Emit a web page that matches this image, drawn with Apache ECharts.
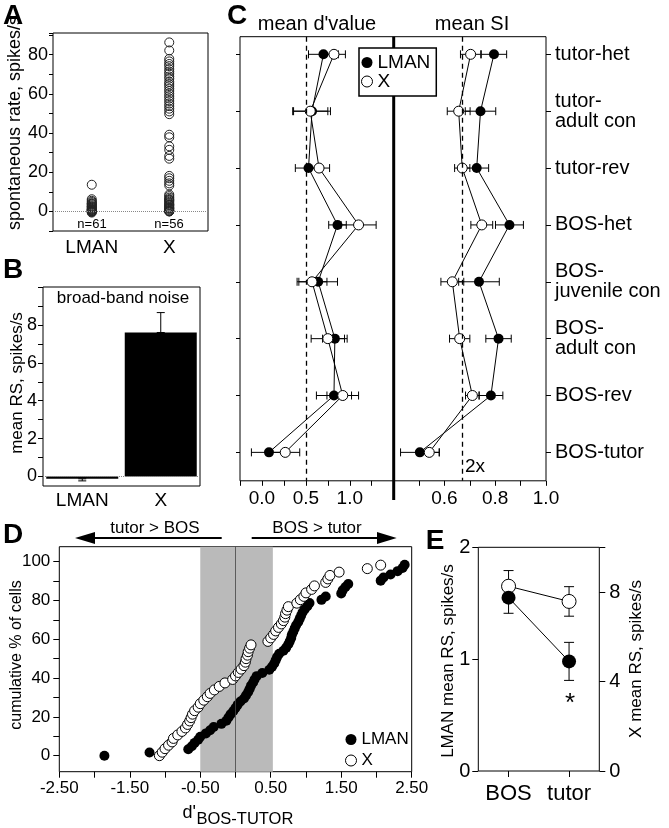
<!DOCTYPE html>
<html><head><meta charset="utf-8">
<script src="https://cdn.jsdelivr.net/npm/echarts@6/dist/echarts.min.js"></script>
<style>html,body{margin:0;padding:0;background:#fff}#c{width:669px;height:828px}</style>
</head><body><div id="c"></div>
<script>
// ---------- Panel A: spontaneous rate ----------
const aCategories = ['LMAN', 'X'];
const aLmanRates = [13.6, 6.2, 5.4, 4.8, 4.2, 3.6, 3.1, 2.6, 2.1, 1.7, 1.3, 1.0, 0.7, 0.4, 0.2, 0.0, 0.0, -0.3, -0.6, 0.9, 2.4, 3.9];
const aXRates = [86.2, 82.1, 77.8, 76.5, 75.2, 74.1, 72.6, 71.3, 70.2, 68.8, 67.7, 66.1, 65.0, 63.9, 62.6, 61.4, 60.1, 58.8, 57.6, 56.3,
  55.0, 53.7, 52.4, 51.0, 49.6, 39.1, 37.8, 33.2, 31.4, 28.3, 26.9, 18.1, 16.9, 15.6, 14.3, 13.2, 8.6, 7.8, 7.0, 6.3,
  5.5, 4.9, 4.2, 3.6, 3.0, 2.4, 1.9, 1.3, 0.8, 0.4, 0.1, 0.0, 5.9, 3.3, 1.6, 0.0];
const aCounts = ['n=61', 'n=56'];
const aYTickLabels = [0, 20, 40, 60, 80];

// ---------- Panel B: broad-band noise ----------
const bCategories = ['LMAN', 'X'];
const bMeans = [-0.12, 7.6];
const bErrors = [0.11, 1.05];
const bYTickLabels = [0, 2, 4, 6, 8];

// ---------- Panel C: mean d' and mean SI ----------
const cStimuli = ['tutor-het', 'tutor-\nadult con', 'tutor-rev', 'BOS-het', 'BOS-\njuvenile con', 'BOS-\nadult con', 'BOS-rev', 'BOS-tutor'];
const cDprimeLman = [0.70, 0.57, 0.53, 0.86, 0.64, 0.83, 0.82, 0.08];
const cDprimeLmanErr = [0.17, 0.21, 0.15, 0.10, 0.22, 0.14, 0.20, 0.20];
const cDprimeX = [0.82, 0.55, 0.65, 1.10, 0.57, 0.75, 0.92, 0.265];
const cDprimeXErr = [0.13, 0.20, 0.12, 0.20, 0.17, 0.19, 0.18, 0.165];
const cSiLman = [0.795, 0.742, 0.727, 0.856, 0.736, 0.813, 0.783, 0.503];
const cSiLmanErr = [0.05, 0.06, 0.047, 0.055, 0.08, 0.05, 0.047, 0.076];
const cSiX = [0.703, 0.656, 0.67, 0.747, 0.631, 0.66, 0.71, 0.54];
const cSiXErr = [0.04, 0.045, 0.03, 0.043, 0.045, 0.04, 0.027, 0.04];
const cDprimeTickLabels = [0, 0.5, 1.0];
const cSiTickLabels = [0.6, 0.8, 1.0];
const cDprimeCriterion = 0.5;
const cSiCriterion = 0.667;

// ---------- Panel D: cumulative distributions of d'BOS-TUTOR ----------
const dLman = [[-1.86,0.0],[-1.22,1.6],[-0.67,3.3],[-0.62,4.9],[-0.58,6.6],[-0.53,8.2],[-0.5,9.8],[-0.42,11.5],[-0.36,13.1],[-0.31,14.8],
  [-0.2,16.4],[-0.13,18.0],[-0.1,19.7],[-0.07,21.3],[-0.03,23.0],[0.0,24.6],[0.03,26.2],[0.07,27.9],[0.12,29.5],[0.15,31.1],
  [0.18,32.8],[0.2,34.4],[0.22,36.1],[0.25,37.7],[0.27,39.3],[0.3,41.0],[0.38,42.6],[0.48,44.3],[0.52,45.9],[0.55,47.5],
  [0.57,49.2],[0.59,50.8],[0.62,52.5],[0.68,54.1],[0.72,55.7],[0.75,57.4],[0.77,59.0],[0.79,60.7],[0.8,62.3],[0.82,63.9],
  [0.84,65.6],[0.86,67.2],[0.89,68.9],[0.91,70.5],[0.93,72.1],[0.95,73.8],[0.98,75.4],[1.02,77.0],[1.05,78.7],[1.22,80.3],
  [1.28,82.0],[1.5,83.6],[1.52,85.2],[1.56,86.9],[1.6,88.5],[2.06,90.2],[2.1,91.8],[2.2,93.4],[2.3,95.1],[2.37,96.7],[2.4,98.4]];
const dX = [[-1.08,0.0],[-1.04,1.8],[-1.0,3.6],[-0.95,5.4],[-0.9,7.1],[-0.88,8.9],[-0.82,10.7],[-0.76,12.5],[-0.71,14.3],[-0.68,16.1],
  [-0.65,17.9],[-0.63,19.6],[-0.61,21.4],[-0.58,23.2],[-0.53,25.0],[-0.5,26.8],[-0.45,28.6],[-0.4,30.4],[-0.36,32.1],[-0.3,33.9],
  [-0.23,35.7],[-0.15,37.5],[-0.04,39.3],[0.0,41.1],[0.04,42.9],[0.08,44.6],[0.12,46.4],[0.14,48.2],[0.15,50.0],[0.17,51.8],
  [0.18,53.6],[0.2,55.4],[0.22,57.1],[0.46,58.9],[0.5,60.7],[0.54,62.5],[0.57,64.3],[0.61,66.1],[0.65,67.9],[0.68,69.6],
  [0.7,71.4],[0.71,73.2],[0.73,75.0],[0.75,76.8],[0.87,78.6],[0.92,80.4],[0.97,82.1],[1.0,83.9],[1.08,85.7],[1.12,87.5],
  [1.28,89.3],[1.31,91.1],[1.34,92.9],[1.47,94.6],[1.87,96.4],[2.06,98.2]];
const dShadeRange = [-0.5, 0.53];
const dXTickLabels = [-2.5, -1.5, -0.5, 0.5, 1.5, 2.5];

// ---------- Panel E: response strength to BOS and tutor ----------
const eCategories = ['BOS', 'tutor'];
const eLmanMeans = [1.55, 0.98];
const eLmanErr = [0.14, 0.17];
const eXMeans = [8.26, 7.58];
const eXErr = [0.7, 0.66];

// ---------- helpers ----------
const FONT = '"Liberation Sans", Arial, Helvetica, sans-serif';
const BLACK = '#000';
function near(v, list) { return list.some(t => Math.abs(v - t) < 1e-6); }
const noAxis = {axisLine: {show: false, onZero: false}, splitLine: {show: false}, axisTick: {show: false}, axisLabel: {show: false}};
function tick(len) { return {show: true, length: len, lineStyle: {color: BLACK, width: 1}}; }
function lab(size, margin, formatter, extra) {
  return Object.assign({show: true, fontSize: size, color: BLACK, margin: margin, fontFamily: FONT, formatter: formatter}, extra || {});
}
const frame = {show: true, borderColor: BLACK, borderWidth: 1, backgroundColor: 'transparent'};

function hErr(params, api) {
  const y = api.value(2);
  const lo = api.coord([api.value(0), y]);
  const hi = api.coord([api.value(1), y]);
  const h = 4, st = {stroke: BLACK, lineWidth: 1};
  return {type: 'group', children: [
    {type: 'line', shape: {x1: lo[0], y1: lo[1], x2: hi[0], y2: hi[1]}, style: st},
    {type: 'line', shape: {x1: lo[0], y1: lo[1] - h, x2: lo[0], y2: lo[1] + h}, style: st},
    {type: 'line', shape: {x1: hi[0], y1: hi[1] - h, x2: hi[0], y2: hi[1] + h}, style: st}]};
}
function vErrFactory(half) {
  return function (params, api) {
    const x = api.value(0);
    const lo = api.coord([x, api.value(1)]);
    const hi = api.coord([x, api.value(2)]);
    const st = {stroke: BLACK, lineWidth: 1};
    return {type: 'group', children: [
      {type: 'line', shape: {x1: lo[0], y1: lo[1], x2: hi[0], y2: hi[1]}, style: st},
      {type: 'line', shape: {x1: lo[0] - half, y1: lo[1], x2: lo[0] + half, y2: lo[1]}, style: st},
      {type: 'line', shape: {x1: hi[0] - half, y1: hi[1], x2: hi[0] + half, y2: hi[1]}, style: st}]};
  };
}
function txt(x, y, text, size, opt) {
  opt = opt || {};
  return {type: 'text', x: x, y: y, rotation: opt.rot || 0, z: 30, silent: true,
    style: {text: text, fill: BLACK, font: (opt.bold ? 'bold ' : '') + size + 'px ' + FONT,
      textAlign: opt.align || 'center', textVerticalAlign: opt.valign || 'middle'}};
}
const ROT = Math.PI / 2;

const dotted0 = {silent: true, symbol: ['none', 'none'], label: {show: false},
  lineStyle: {color: '#888', type: 'dotted', width: 1}, data: [{yAxis: 0}]};

const option = {
  animation: false,
  textStyle: {fontFamily: FONT, color: BLACK},
  grid: [
    Object.assign({left: 53, top: 33, width: 155, height: 198}, frame),          // 0 A
    Object.assign({left: 43, top: 287, width: 157, height: 199}, frame),         // 1 B data
    {left: 43, top: 287, width: 157, height: 189.5, show: false},                 // 2 B ticks
    Object.assign({left: 240, top: 36.7, width: 153.7, height: 444.1}, frame),    // 3 C left
    Object.assign({left: 393.7, top: 36.7, width: 152.3, height: 444.1}, frame),  // 4 C right
    {left: 240, top: 25.9, width: 153.7, height: 454.9, show: false},             // 5 C left cat ticks
    {left: 393.7, top: 25.9, width: 152.3, height: 454.9, show: false},           // 6 C right cat labels
    Object.assign({left: 59.3, top: 546.7, width: 352.4, height: 225}, frame),    // 7 D data
    {left: 59.3, top: 561.6, width: 352.4, height: 194.1, show: false},           // 8 D ticks
    Object.assign({left: 478.3, top: 547.3, width: 121, height: 223.7}, frame)    // 9 E
  ],
  xAxis: [
    Object.assign({}, noAxis, {type: 'category', gridIndex: 0, data: aCategories, axisLabel: lab(19, 7, null, {interval: 0})}),
    Object.assign({}, noAxis, {type: 'category', gridIndex: 1, data: bCategories, axisLabel: lab(19, 5, null, {interval: 0})}),
    {type: 'value', gridIndex: 2, min: 0, max: 1, show: false},
    Object.assign({}, noAxis, {type: 'value', gridIndex: 3, min: -0.25, max: 1.5, interval: 0.25, axisTick: tick(5),
      axisLabel: lab(19, 8, v => near(v, cDprimeTickLabels) ? v.toFixed(1) : '')}),
    Object.assign({}, noAxis, {type: 'value', gridIndex: 4, min: 0.4, max: 1.0, interval: 0.1, axisTick: tick(5),
      axisLabel: lab(19, 8, v => near(v, cSiTickLabels) ? v.toFixed(1) : '')}),
    {type: 'value', gridIndex: 5, min: 0, max: 1, show: false},
    {type: 'value', gridIndex: 6, min: 0, max: 1, show: false},
    Object.assign({}, noAxis, {type: 'value', gridIndex: 7, min: -2.5, max: 2.5, interval: 0.5, axisTick: tick(6),
      axisLabel: lab(17, 8, v => near(v, dXTickLabels) ? v.toFixed(2) : '')}),
    {type: 'value', gridIndex: 8, min: 0, max: 1, show: false},
    Object.assign({}, noAxis, {type: 'category', gridIndex: 9, data: eCategories,
      axisTick: {show: true, alignWithLabel: true, length: 6, lineStyle: {color: BLACK}},
      axisLabel: lab(22, 12, null, {interval: 0})})
  ],
  yAxis: [
    Object.assign({}, noAxis, {type: 'value', gridIndex: 0, min: -10, max: 91, interval: 10, axisTick: tick(4),
      axisLabel: lab(18, 5, v => near(v, aYTickLabels) ? String(v) : '')}),
    {type: 'value', gridIndex: 1, min: -0.5, max: 10, show: false},
    Object.assign({}, noAxis, {type: 'value', gridIndex: 2, min: 0, max: 10, interval: 1, axisTick: tick(5),
      axisLabel: lab(18, 6, v => near(v, bYTickLabels) ? String(v) : '')}),
    {type: 'value', gridIndex: 3, min: -0.31, max: 7.5, inverse: true, show: false},
    {type: 'value', gridIndex: 4, min: -0.31, max: 7.5, inverse: true, show: false},
    Object.assign({}, noAxis, {type: 'category', gridIndex: 5, data: cStimuli, inverse: true, position: 'left',
      axisTick: {show: true, alignWithLabel: true, length: 4, lineStyle: {color: BLACK}}}),
    Object.assign({}, noAxis, {type: 'category', gridIndex: 6, data: cStimuli, inverse: true, position: 'right',
      axisTick: {show: true, alignWithLabel: true, length: 5, lineStyle: {color: BLACK}},
      axisLabel: lab(20, 9, null, {interval: 0, align: 'left', lineHeight: 20})}),
    {type: 'value', gridIndex: 7, min: -8.25, max: 107.7, show: false},
    Object.assign({}, noAxis, {type: 'value', gridIndex: 8, min: 0, max: 100, interval: 10, axisTick: tick(6),
      axisLabel: lab(17, 9, v => (Math.abs(v % 20) < 1e-6 ? String(v) : ''))}),
    Object.assign({}, noAxis, {type: 'value', gridIndex: 9, min: 0, max: 2, interval: 1, axisTick: tick(6),
      axisLabel: lab(20, 8, v => String(v))}),
    Object.assign({}, noAxis, {type: 'value', gridIndex: 9, min: 0, max: 10, interval: 4, position: 'right', axisTick: tick(6),
      axisLabel: lab(20, 10, v => (v <= 8 ? String(v) : ''))})
  ],
  legend: [
    {orient: 'vertical', left: 359, top: 48, padding: [5, 6, 5, 2], itemGap: 0, itemWidth: 11, itemHeight: 11,
      backgroundColor: '#fff', borderColor: BLACK, borderWidth: 1.5, selectedMode: false, z: 20,
      textStyle: {fontSize: 19, color: BLACK, fontFamily: FONT, lineHeight: 19},
      data: [{name: 'LMAN', icon: 'circle', itemStyle: {color: BLACK, borderWidth: 0, opacity: 1}},
             {name: 'X', icon: 'circle', itemStyle: {color: '#fff', borderColor: BLACK, borderWidth: 1, opacity: 1}}]},
    {orient: 'vertical', left: 345, top: 731, padding: 0, itemGap: 4, itemWidth: 11, itemHeight: 11, selectedMode: false, z: 20,
      textStyle: {fontSize: 17, color: BLACK, fontFamily: FONT, lineHeight: 16},
      data: [{name: 'LMAN', icon: 'circle', itemStyle: {color: BLACK, borderWidth: 0, opacity: 1}},
             {name: 'X', icon: 'circle', itemStyle: {color: '#fff', borderColor: BLACK, borderWidth: 1, opacity: 1}}]}
  ],
  series: [
    // A
    {name: 'A-LMAN', type: 'scatter', xAxisIndex: 0, yAxisIndex: 0, symbolSize: 9, z: 3,
      itemStyle: {color: 'rgba(255,255,255,0)', borderColor: '#222', borderWidth: 1, opacity: 1},
      data: aLmanRates.map(v => [aCategories[0], v]), markLine: dotted0},
    {name: 'A-X', type: 'scatter', xAxisIndex: 0, yAxisIndex: 0, symbolSize: 9, z: 3,
      itemStyle: {color: 'rgba(255,255,255,0)', borderColor: '#222', borderWidth: 1, opacity: 1},
      data: aXRates.map(v => [aCategories[1], v])},
    // B
    {name: 'B-bars', type: 'bar', xAxisIndex: 1, yAxisIndex: 1, barWidth: 72, itemStyle: {color: BLACK}, z: 2,
      data: bMeans, markLine: dotted0},
    {name: 'B-err', type: 'custom', xAxisIndex: 1, yAxisIndex: 1, z: 3, renderItem: vErrFactory(4),
      encode: {x: 0, y: [1, 2]},
      data: bMeans.map((m, i) => [i, m, m + Math.sign(m) * bErrors[i]])},
    // C left (d')
    {name: 'C-errL', type: 'custom', xAxisIndex: 3, yAxisIndex: 3, z: 2, renderItem: hErr, encode: {x: [0, 1], y: 2},
      data: cDprimeLman.map((m, i) => [m - cDprimeLmanErr[i], m + cDprimeLmanErr[i], i])},
    {name: 'C-errX', type: 'custom', xAxisIndex: 3, yAxisIndex: 3, z: 2, renderItem: hErr, encode: {x: [0, 1], y: 2},
      data: cDprimeX.map((m, i) => [m - cDprimeXErr[i], m + cDprimeXErr[i], i])},
    {name: 'LMAN', type: 'line', xAxisIndex: 3, yAxisIndex: 3, z: 3, symbol: 'circle', symbolSize: 10,
      itemStyle: {color: BLACK}, lineStyle: {color: BLACK, width: 1},
      data: cDprimeLman.map((v, i) => [v, i]),
      markLine: {silent: true, symbol: ['none', 'none'], label: {show: false},
        lineStyle: {color: BLACK, type: [5, 4], width: 1.3}, data: [{xAxis: cDprimeCriterion}]}},
    {name: 'X', type: 'line', xAxisIndex: 3, yAxisIndex: 3, z: 4, symbol: 'circle', symbolSize: 10,
      itemStyle: {color: '#fff', borderColor: BLACK, borderWidth: 1}, lineStyle: {color: BLACK, width: 1},
      data: cDprimeX.map((v, i) => [v, i])},
    // C right (SI)
    {name: 'C-errSL', type: 'custom', xAxisIndex: 4, yAxisIndex: 4, z: 2, renderItem: hErr, encode: {x: [0, 1], y: 2},
      data: cSiLman.map((m, i) => [m - cSiLmanErr[i], m + cSiLmanErr[i], i])},
    {name: 'C-errSX', type: 'custom', xAxisIndex: 4, yAxisIndex: 4, z: 2, renderItem: hErr, encode: {x: [0, 1], y: 2},
      data: cSiX.map((m, i) => [m - cSiXErr[i], m + cSiXErr[i], i])},
    {name: 'LMAN', type: 'line', xAxisIndex: 4, yAxisIndex: 4, z: 3, symbol: 'circle', symbolSize: 10,
      itemStyle: {color: BLACK}, lineStyle: {color: BLACK, width: 1},
      data: cSiLman.map((v, i) => [v, i]),
      markLine: {silent: true, symbol: ['none', 'none'], label: {show: false},
        lineStyle: {color: BLACK, type: [5, 4], width: 1.3}, data: [{xAxis: cSiCriterion}]}},
    {name: 'X', type: 'line', xAxisIndex: 4, yAxisIndex: 4, z: 4, symbol: 'circle', symbolSize: 10,
      itemStyle: {color: '#fff', borderColor: BLACK, borderWidth: 1}, lineStyle: {color: BLACK, width: 1},
      data: cSiX.map((v, i) => [v, i])},
    // D
    {name: 'D-shade', type: 'scatter', xAxisIndex: 7, yAxisIndex: 7, z: 1, data: [],
      markArea: {silent: true, itemStyle: {color: '#bababa'}, data: [[{xAxis: dShadeRange[0]}, {xAxis: dShadeRange[1]}]]},
      markLine: {silent: true, symbol: ['none', 'none'], label: {show: false},
        lineStyle: {color: '#444', type: 'solid', width: 0.8}, data: [{xAxis: 0}]}},
    {name: 'LMAN', type: 'scatter', xAxisIndex: 7, yAxisIndex: 7, z: 3, symbolSize: 10,
      itemStyle: {color: BLACK, opacity: 1}, data: dLman},
    {name: 'X', type: 'scatter', xAxisIndex: 7, yAxisIndex: 7, z: 4, symbolSize: 10,
      itemStyle: {color: '#fff', borderColor: BLACK, borderWidth: 1, opacity: 1}, data: dX},
    // E
    {name: 'E-errX', type: 'custom', xAxisIndex: 9, yAxisIndex: 10, z: 2, renderItem: vErrFactory(5), encode: {x: 0, y: [1, 2]},
      data: eXMeans.map((m, i) => [i, m - eXErr[i], m + eXErr[i]])},
    {name: 'E-errL', type: 'custom', xAxisIndex: 9, yAxisIndex: 9, z: 2, renderItem: vErrFactory(5), encode: {x: 0, y: [1, 2]},
      data: eLmanMeans.map((m, i) => [i, m - eLmanErr[i], m + eLmanErr[i]])},
    {name: 'E-X', type: 'line', xAxisIndex: 9, yAxisIndex: 10, z: 3, symbol: 'circle', symbolSize: 14,
      itemStyle: {color: '#fff', borderColor: BLACK, borderWidth: 1}, lineStyle: {color: BLACK, width: 1}, data: eXMeans},
    {name: 'E-LMAN', type: 'line', xAxisIndex: 9, yAxisIndex: 9, z: 4, symbol: 'circle', symbolSize: 14,
      itemStyle: {color: BLACK}, lineStyle: {color: BLACK, width: 1}, data: eLmanMeans}
  ],
  graphic: {elements: [
    // panel letters
    txt(13, 16, 'A', 28, {bold: true}),
    txt(13, 270, 'B', 28, {bold: true}),
    txt(237, 16, 'C', 28, {bold: true}),
    txt(13, 535, 'D', 28, {bold: true}),
    txt(435, 541, 'E', 28, {bold: true}),
    // axis names
    txt(15, 123, 'spontaneous rate, spikes/s', 18, {rot: ROT}),
    txt(17, 383, 'mean RS, spikes/s', 17, {rot: ROT}),
    txt(17, 655, 'cumulative % of cells', 16, {rot: ROT}),
    txt(448, 661, 'LMAN mean RS, spikes/s', 17, {rot: ROT}),
    txt(636, 659, 'X mean RS, spikes/s', 17, {rot: ROT}),
    // A counts
    txt(92, 224, aCounts[0], 13),
    txt(169, 224, aCounts[1], 13),
    // B title
    txt(123, 298, 'broad-band noise', 17),
    // C titles
    txt(317, 24, "mean d'value", 20),
    txt(472, 24, 'mean SI', 20),
    txt(465, 467, '2x', 19, {align: 'left'}),
    {type: 'line', z: 5, silent: true, shape: {x1: 393.7, y1: 36.7, x2: 393.7, y2: 500}, style: {stroke: BLACK, lineWidth: 3}},
    // D arrows
    txt(155, 528, 'tutor > BOS', 17),
    txt(317, 528, 'BOS > tutor', 17),
    {type: 'line', z: 5, silent: true, shape: {x1: 221.7, y1: 538, x2: 90, y2: 538}, style: {stroke: BLACK, lineWidth: 2}},
    {type: 'polygon', z: 5, silent: true, shape: {points: [[75, 538], [95, 532], [95, 544]]}, style: {fill: BLACK}},
    {type: 'line', z: 5, silent: true, shape: {x1: 251.7, y1: 538, x2: 382, y2: 538}, style: {stroke: BLACK, lineWidth: 2}},
    {type: 'polygon', z: 5, silent: true, shape: {points: [[396.7, 538], [377, 532], [377, 544]]}, style: {fill: BLACK}},
    txt(196, 813, "d'", 18, {align: 'right'}),
    txt(196.5, 819, 'BOS-TUTOR', 16.5, {align: 'left'}),
    // E significance
    txt(570, 704, '*', 26)
  ]}
};
const chart = echarts.init(document.getElementById('c'), null, {renderer: 'canvas'});
chart.setOption(option);
</script></body></html>
